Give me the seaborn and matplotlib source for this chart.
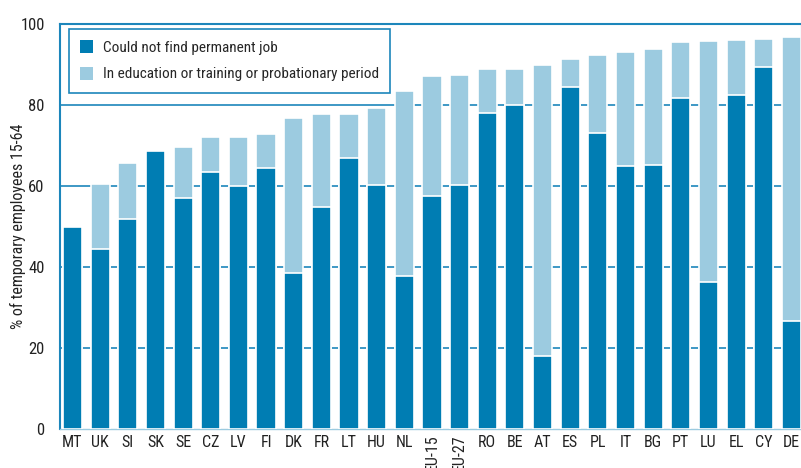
import matplotlib
matplotlib.use("Agg")
import matplotlib.pyplot as plt
from matplotlib import font_manager
from matplotlib.patches import Patch
import seaborn as sns
import pandas as pd
import numpy as np

countries = ["MT", "UK", "SI", "SK", "SE", "CZ", "LV", "FI", "DK", "FR", "LT", "HU", "NL",
             "EU-15", "EU-27", "RO", "BE", "AT", "ES", "PL", "IT", "BG", "PT", "LU", "EL", "CY", "DE"]
could_not_find = [49.8, 44.4, 51.9, 68.6, 57.0, 63.5, 60.1, 64.4, 38.6, 54.8, 66.8, 60.2, 37.8,
                  57.6, 60.2, 78.1, 80.0, 18.0, 84.5, 73.1, 64.9, 65.3, 81.8, 36.4, 82.5, 89.5, 26.7]
total = [49.8, 60.5, 65.8, 68.6, 69.6, 72.1, 72.2, 72.8, 76.7, 77.9, 77.9, 79.2, 83.5,
         87.1, 87.5, 88.8, 89.0, 89.9, 91.4, 92.4, 93.1, 93.9, 95.6, 95.8, 96.0, 96.3, 96.8]
legend_labels = ["Could not find permanent job", "In education or training or probationary period"]
yticks = [0, 20, 40, 60, 80, 100]

DARK = "#007db3"
LIGHT = "#9ccbe0"
AXBLUE = "#1c86bb"

sns.set_theme(style="white")
avail = {f.name for f in font_manager.fontManager.ttflist}
fam = [f for f in ["Liberation Sans Narrow", "Roboto Condensed", "Open Sans Condensed"] if f in avail]
plt.rcParams["font.family"] = fam + ["DejaVu Sans"]

df = pd.DataFrame({"country": countries, "dark": could_not_find, "total": total})

fig = plt.figure(figsize=(8.01, 4.68), dpi=100)
ax = fig.add_axes([60 / 801, 1 - 429 / 468, 742 / 801, 405 / 468])

for y in [20, 40, 60, 80]:
    ax.axhline(y, color=AXBLUE, lw=1.2, zorder=0)

sns.barplot(data=df, x="country", y="total", color=LIGHT, saturation=1, width=0.69,
            edgecolor="white", linewidth=1.2, ax=ax, zorder=2)
sns.barplot(data=df, x="country", y="dark", color=DARK, saturation=1, width=0.69,
            edgecolor="white", linewidth=1.2, ax=ax, zorder=3)

ax.set_xlim(-0.45, 26.38)
ax.set_ylim(0, 100)
ax.set_yticks(yticks)
ax.set_yticklabels([str(v) for v in yticks], fontsize=12, color="#222222")
ax.tick_params(axis="y", length=0, pad=11)
ax.set_ylabel("% of temporary employees 15-64", fontsize=11.5, color="#222222")
ax.yaxis.set_label_coords(-0.046, 0.5)
ax.set_xlabel("")

ax.set_xticks(range(len(countries)))
ax.set_xticklabels(countries, fontsize=11.5, color="#222222")
for lab in ax.get_xticklabels():
    if lab.get_text().startswith("EU"):
        lab.set_rotation(90)
        lab.set_va("top")
ax.tick_params(axis="x", which="major", length=0, pad=4)
ax.set_xticks(np.arange(len(countries) - 1) + 0.5, minor=True)
ax.tick_params(axis="x", which="minor", length=6, width=1, color="#333333", direction="out")

for s in ["left", "top", "right"]:
    ax.spines[s].set_color(AXBLUE)
    ax.spines[s].set_linewidth(1.5)
ax.spines["bottom"].set_color("#9ccbe0")
ax.spines["bottom"].set_linewidth(1)

handles = [Patch(facecolor=DARK, edgecolor="none"), Patch(facecolor=LIGHT, edgecolor="none")]
leg = ax.legend(handles, legend_labels, loc="upper left", bbox_to_anchor=(0.012, 0.988),
                borderaxespad=0, frameon=True, fancybox=False, fontsize=11,
                handlelength=0.85, handleheight=0.95, handletextpad=0.6, labelspacing=0.75,
                borderpad=0.75, framealpha=1)
leg.get_frame().set_edgecolor(AXBLUE)
leg.get_frame().set_linewidth(1.2)
leg.set_zorder(10)

fig.savefig("out.png", dpi=100)
